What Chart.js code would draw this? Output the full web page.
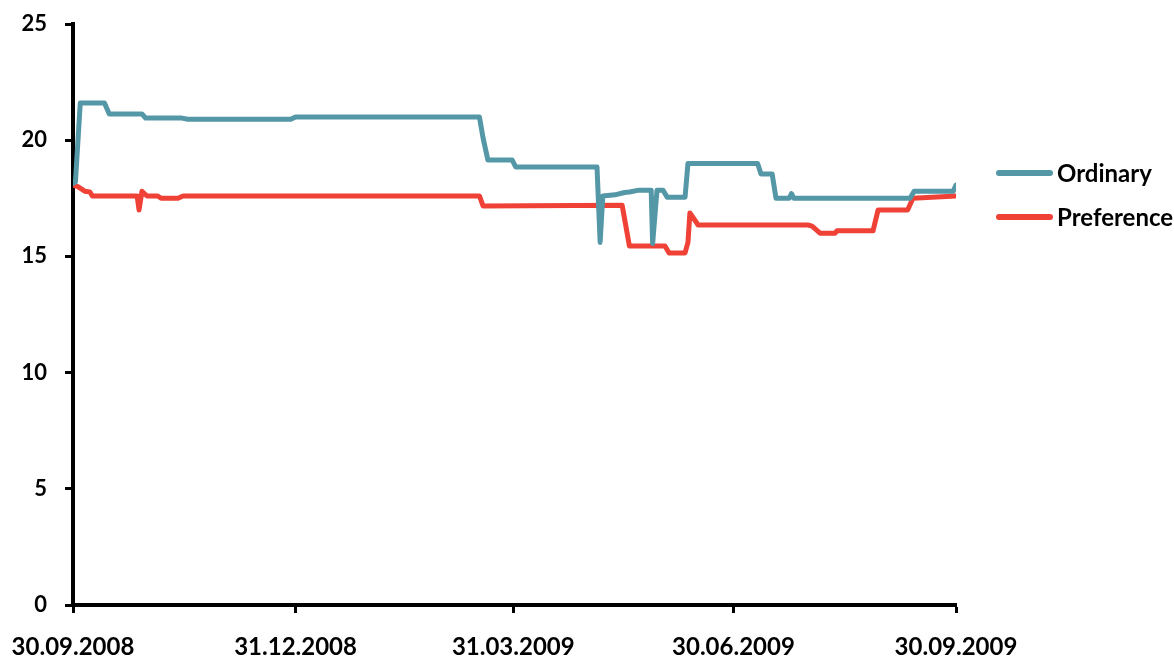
<!DOCTYPE html>
<html>
<head>
<meta charset="utf-8">
<script src="https://cdn.jsdelivr.net/npm/chart.js@4"></script>
<style>
html,body{margin:0;padding:0;background:#fff;}
#wrap{width:1174px;height:658px;position:relative;}
</style>
</head>
<body>
<div id="wrap"><canvas id="c" width="1174" height="658"></canvas></div>
<script>
// Day offsets counted from 30.09.2008
const tickDays = [0, 92, 182, 273, 365];
const tickLabels = ['30.09.2008', '31.12.2008', '31.03.2009', '30.06.2009', '30.09.2009'];

const ordinaryDays = [0, 1, 3, 13, 15, 28.5, 30, 45, 47.5, 90, 92, 168, 169.5, 171.5, 181.5, 183, 216.6, 217.9, 219, 224, 228, 230, 234, 239, 239.6, 241.4, 243.9, 245.6, 253, 254.2, 283, 284.4, 289, 290.6, 296, 297, 298, 346, 347.7, 363.8, 365];
const ordinaryValues = [18.15, 18.2, 21.6, 21.6, 21.13, 21.13, 20.95, 20.95, 20.9, 20.9, 21.0, 21.0, 20.1, 19.15, 19.15, 18.85, 18.85, 15.6, 17.6, 17.65, 17.75, 17.77, 17.85, 17.85, 15.55, 17.85, 17.85, 17.55, 17.55, 19.0, 19.0, 18.55, 18.55, 17.5, 17.5, 17.7, 17.5, 17.5, 17.8, 17.8, 18.07];

const preferenceDays = [0, 2, 5, 7, 8, 26.5, 27.3, 28.5, 30.6, 35, 36.4, 43.4, 45.5, 168, 169.5, 227, 230, 244.7, 246.4, 253, 254.2, 255, 258.4, 303.8, 305.5, 308.8, 315, 315.8, 330.7, 332.8, 345, 347.2, 365];
const preferenceValues = [18.07, 18.0, 17.8, 17.77, 17.6, 17.6, 17.0, 17.8, 17.6, 17.6, 17.5, 17.5, 17.6, 17.6, 17.17, 17.2, 15.45, 15.45, 15.15, 15.15, 15.6, 16.87, 16.35, 16.35, 16.3, 16.0, 16.0, 16.1, 16.1, 17.0, 17.0, 17.5, 17.6];

const seriesNames = ['Ordinary', 'Preference'];
const seriesColors = ['rgb(84,151,167)', 'rgb(239,65,54)'];

function toPoints(days, vals){ return days.map((d,i)=>({x:d, y:vals[i]})); }

const FONT = 'Lato, "Open Sans", sans-serif';

const legendPlugin = {
  id: 'customLegend',
  afterDraw(chart){
    const ctx = chart.ctx;
    const ys = [173, 217];
    ctx.save();
    chart.data.datasets.forEach((ds, i) => {
      const y = ys[i];
      ctx.strokeStyle = ds.borderColor;
      ctx.lineWidth = 6;
      ctx.lineCap = 'round';
      ctx.beginPath();
      ctx.moveTo(999, y);
      ctx.lineTo(1050, y);
      ctx.stroke();
      ctx.fillStyle = '#000';
      ctx.font = 'bold 24px ' + FONT;
      ctx.textBaseline = 'middle';
      ctx.textAlign = 'left';
      ctx.fillText(ds.label, 1057, y + 1);
    });
    ctx.restore();
  }
};

new Chart(document.getElementById('c'), {
  type: 'line',
  data: {
    datasets: [
      { label: seriesNames[0], data: toPoints(ordinaryDays, ordinaryValues), borderColor: seriesColors[0], backgroundColor: seriesColors[0], borderWidth: 5, pointRadius: 0, tension: 0, borderCapStyle: 'round', borderJoinStyle: 'round', fill: false },
      { label: seriesNames[1], data: toPoints(preferenceDays, preferenceValues), borderColor: seriesColors[1], backgroundColor: seriesColors[1], borderWidth: 5, pointRadius: 0, tension: 0, borderCapStyle: 'round', borderJoinStyle: 'round', fill: false }
    ]
  },
  options: {
    responsive: false,
    animation: false,
    layout: { padding: { left: 0, right: 218, top: 24, bottom: 0 } },
    plugins: { legend: { display: false }, tooltip: { enabled: false } },
    scales: {
      x: {
        type: 'linear',
        min: 0, max: 365,
        afterBuildTicks(scale){ scale.ticks = tickDays.map(v => ({value: v})); },
        afterFit(scale){ scale.height = 53; scale.paddingLeft = 0; scale.paddingRight = 0; },
        ticks: {
          autoSkip: false, maxRotation: 0, minRotation: 0, padding: 20,
          color: '#000', font: { family: FONT, size: 24, weight: 'bold' },
          callback(v){ const i = tickDays.indexOf(v); return i >= 0 ? tickLabels[i] : ''; }
        },
        grid: { display: true, drawOnChartArea: false, drawTicks: true, tickLength: 8, tickWidth: 3, color: '#000' },
        border: { display: true, color: '#000', width: 4 }
      },
      y: {
        min: 0, max: 25,
        afterFit(scale){ scale.width = 73; scale.paddingTop = 0; scale.paddingBottom = 0; },
        ticks: { stepSize: 5, padding: 18, color: '#000', font: { family: FONT, size: 22, weight: 'bold' } },
        grid: { display: true, drawOnChartArea: false, drawTicks: true, tickLength: 8, tickWidth: 3, color: '#000' },
        border: { display: true, color: '#000', width: 4 }
      }
    }
  },
  plugins: [legendPlugin]
});
</script>
</body>
</html>
